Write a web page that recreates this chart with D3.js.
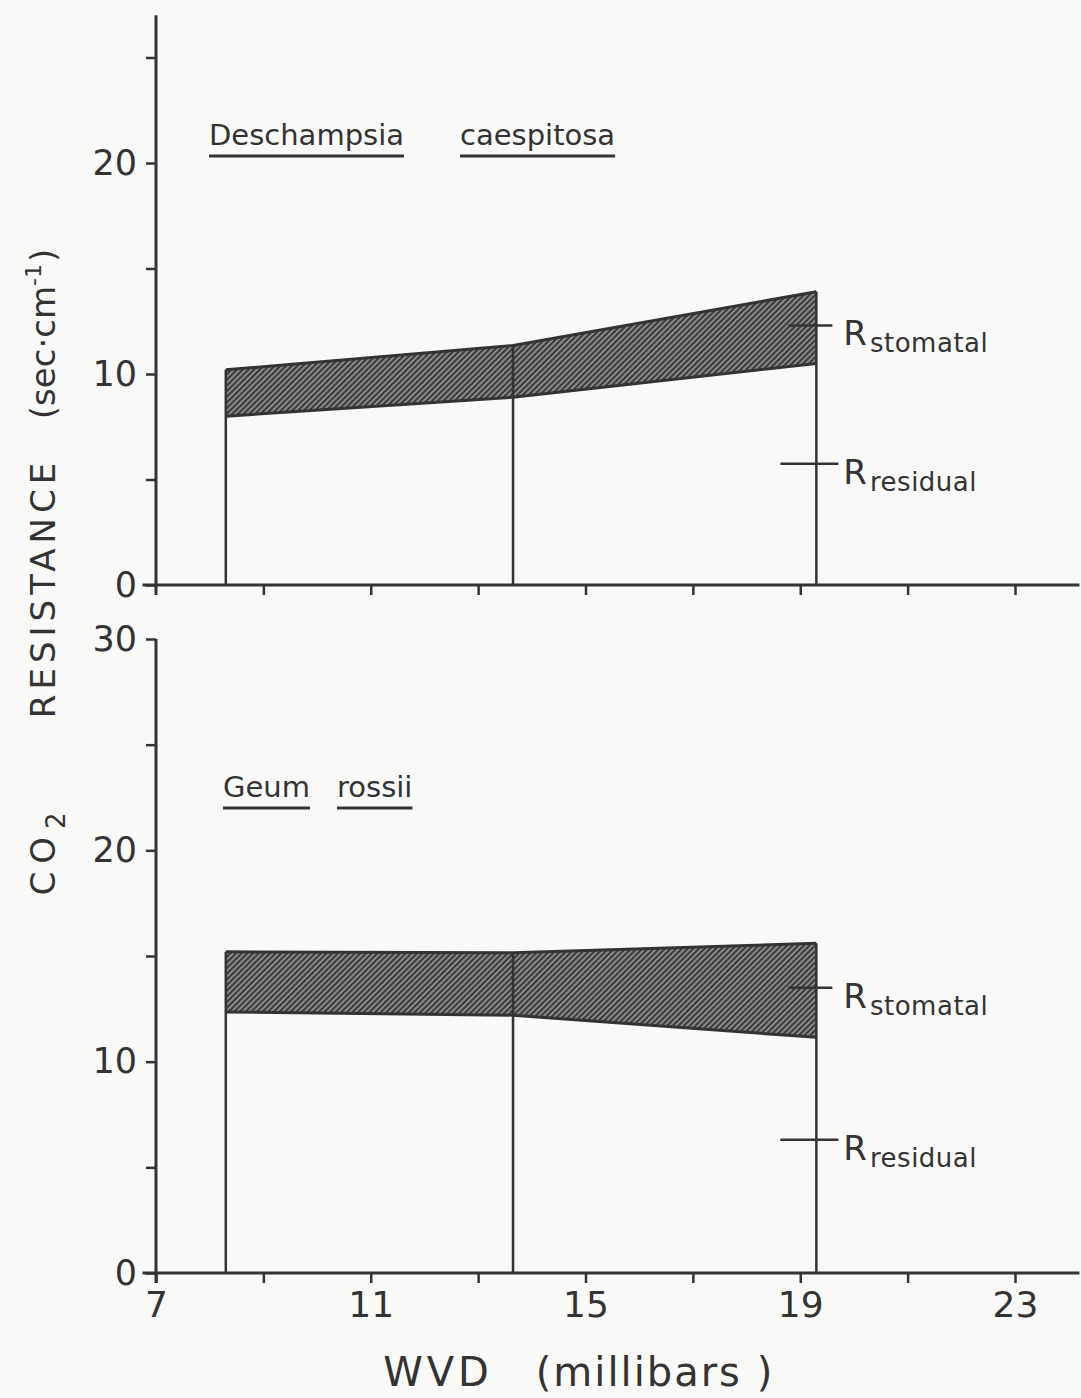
<!DOCTYPE html>
<html>
<head>
<meta charset="utf-8">
<script src="https://cdn.jsdelivr.net/npm/d3@7"></script>
<style>
  body { margin: 0; background: #f9f9f8; }
  svg { display: block; }
  text { font-family: "DejaVu Sans", sans-serif; fill: #333; }
</style>
</head>
<body>
<svg id="chart"></svg>
<script>
// WVD (millibars) at which resistances were measured
const wvd = [8.3, 13.65, 19.3];

// Deschampsia caespitosa
const deschResidual = [8.0, 8.9, 10.5];
const deschTotal = [10.2, 11.35, 13.9];
const deschMarks = [12.3, 5.75];   // stomatal, residual label marks

// Geum rossii
const geumResidual = [12.35, 12.2, 11.15];
const geumTotal = [15.2, 15.15, 15.6];
const geumMarks = [13.5, 6.3];

const markNames = ["stomatal", "residual"];

const xMajor = [7, 11, 15, 19, 23];
const xMinor = [9, 13, 17, 21];
const yTopMajor = [0, 10, 20];
const yTopMinor = [5, 15, 25];
const yBotMajor = [0, 10, 20, 30];
const yBotMinor = [5, 15, 25];

const width = 1081, height = 1398;
const ink = "#333";

const svg = d3.select("#chart")
    .attr("width", width)
    .attr("height", height);

// halftone-ish fill for the stomatal band
const defs = svg.append("defs");
const pat = defs.append("pattern")
    .attr("id", "hatch")
    .attr("patternUnits", "userSpaceOnUse")
    .attr("width", 4)
    .attr("height", 4)
    .attr("patternTransform", "rotate(45)");
pat.append("rect").attr("width", 4).attr("height", 4).attr("fill", "#8a8a8a");
pat.append("rect").attr("width", 2).attr("height", 4).attr("fill", "#3a3a3a");

const x = d3.scaleLinear().domain([7, 23]).range([156, 1015]);

const panels = [
    {
        residual: deschResidual, total: deschTotal, marks: deschMarks,
        y: d3.scaleLinear().domain([0, 25]).range([585, 57.5]),
        axisTop: 27.0,
        major: yTopMajor, minor: yTopMinor,
        words: [["Deschampsia", 209], ["caespitosa", 460]],
        wordY: 145,
        xLabels: false
    },
    {
        residual: geumResidual, total: geumTotal, marks: geumMarks,
        y: d3.scaleLinear().domain([0, 30]).range([1273, 639]),
        axisTop: 30,
        major: yBotMajor, minor: yBotMinor,
        words: [["Geum", 223], ["rossii", 337]],
        wordY: 797,
        xLabels: true
    }
];

panels.forEach(function (p) {
    const g = svg.append("g");
    const y = p.y;
    const rows = wvd.map((w, i) => ({ x: w, lo: p.residual[i], hi: p.total[i] }));

    // band between residual and total
    g.append("path")
        .datum(rows)
        .attr("fill", "url(#hatch)")
        .attr("d", d3.area()
            .x(d => x(d.x))
            .y0(d => y(d.lo))
            .y1(d => y(d.hi)));

    ["lo", "hi"].forEach(function (k) {
        g.append("path")
            .datum(rows)
            .attr("fill", "none")
            .attr("stroke", ink)
            .attr("stroke-width", 3)
            .attr("d", d3.line().x(d => x(d.x)).y(d => y(d[k])));
    });

    // vertical bars
    g.append("g")
        .selectAll("line")
        .data(rows)
        .join("line")
        .attr("x1", d => x(d.x))
        .attr("x2", d => x(d.x))
        .attr("y1", y(0))
        .attr("y2", d => y(d.hi))
        .attr("stroke", ink)
        .attr("stroke-width", 2.5);

    // x axis
    g.append("line")
        .attr("x1", x(6.75)).attr("x2", x(24.2))
        .attr("y1", y(0)).attr("y2", y(0))
        .attr("stroke", ink).attr("stroke-width", 3);
    const xa = g.append("g")
        .attr("transform", `translate(0,${y(0)})`)
        .call(d3.axisBottom(x)
            .tickValues(p.xLabels ? xMajor.concat(xMinor) : xMinor.concat([11, 15, 19, 23]))
            .tickSize(10)
            .tickPadding(8)
            .tickFormat(d => (p.xLabels && xMajor.includes(d)) ? d : ""));
    xa.select(".domain").remove();
    xa.selectAll("line").attr("stroke", ink).attr("stroke-width", 2.5);
    xa.selectAll("text")
        .attr("font-size", 36)
        .attr("font-family", "DejaVu Sans, sans-serif")
        .attr("fill", ink);

    // y axis
    g.append("line")
        .attr("x1", x(7)).attr("x2", x(7))
        .attr("y1", y(0) + 10).attr("y2", y(p.axisTop))
        .attr("stroke", ink).attr("stroke-width", 3);
    const ya = g.append("g")
        .attr("transform", `translate(${x(7)},0)`)
        .call(d3.axisLeft(y)
            .tickValues(p.major.concat(p.minor))
            .tickSize(10)
            .tickPadding(9)
            .tickFormat(d => p.major.includes(d) ? d : ""));
    ya.select(".domain").remove();
    ya.selectAll("line").attr("stroke", ink).attr("stroke-width", 2.5);
    ya.selectAll("text")
        .attr("font-size", 35)
        .attr("font-family", "DejaVu Sans, sans-serif")
        .attr("fill", ink);

    // R stomatal / R residual marks at the last bar
    const xl = x(wvd[wvd.length - 1]);
    p.marks.forEach(function (v, i) {
        g.append("line")
            .attr("x1", xl - (i === 0 ? 28 : 36))
            .attr("x2", xl + (i === 0 ? 16 : 22))
            .attr("y1", y(v)).attr("y2", y(v))
            .attr("stroke", ink).attr("stroke-width", 2.5);
        const t = g.append("text")
            .attr("x", xl + 27)
            .attr("y", y(v) + 20)
            .attr("font-size", 34);
        t.append("tspan").text("R");
        t.append("tspan")
            .attr("dx", 3)
            .attr("dy", 7)
            .attr("font-size", 26)
            .attr("letter-spacing", 0.5)
            .text(markNames[i]);
    });

    // species name, underlined
    p.words.forEach(function (w) {
        const t = g.append("text")
            .attr("x", w[1])
            .attr("y", p.wordY)
            .attr("font-size", 29)
            .text(w[0]);
        const len = t.node().getComputedTextLength();
        g.append("line")
            .attr("x1", w[1]).attr("x2", w[1] + len)
            .attr("y1", p.wordY + 11).attr("y2", p.wordY + 11)
            .attr("stroke", ink).attr("stroke-width", 3);
    });
});

// axis titles
const yt = [["(sec\u00b7cm", 334], ["RESISTANCE", 588], ["CO", 850]];
yt.forEach(function (d, i) {
    const t = svg.append("text")
        .attr("transform", `translate(55,${d[1]}) rotate(-90)`)
        .attr("text-anchor", "middle")
        .attr("font-size", 34)
        .attr("letter-spacing", i === 1 ? 5 : (i === 2 ? 8 : 0));
    t.append("tspan").text(d[0]);
    if (i === 0) {
        t.append("tspan").attr("dy", -14).attr("font-size", 22).text("-1");
        t.append("tspan").attr("dy", 14).attr("dx", 2).text(")");
    }
    if (i === 2) {
        t.append("tspan").attr("dy", 10).attr("font-size", 26).text("2");
    }
});

svg.append("text")
    .attr("x", 438).attr("y", 1386)
    .attr("text-anchor", "middle")
    .attr("font-size", 40)
    .attr("letter-spacing", 4)
    .text("WVD");
svg.append("text")
    .attr("x", 655).attr("y", 1386)
    .attr("text-anchor", "middle")
    .attr("font-size", 40)
    .attr("letter-spacing", 2)
    .text("(millibars )");
</script>
</body>
</html>
